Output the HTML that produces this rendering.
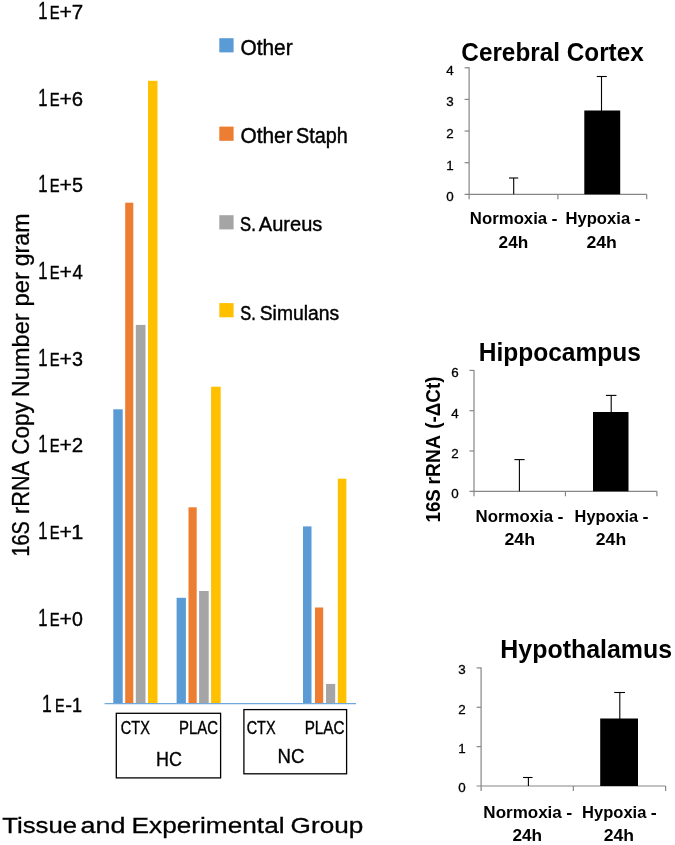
<!DOCTYPE html>
<html><head><meta charset="utf-8"><title>Chart</title>
<style>
html,body{margin:0;padding:0;background:#fff;}
body{width:675px;height:845px;overflow:hidden;font-family:"Liberation Sans",sans-serif;}
svg{display:block;will-change:transform;font-family:"Liberation Sans",sans-serif;}
</style></head><body>
<svg width="675" height="845" viewBox="0 0 675 845">
<rect width="675" height="845" fill="#fff"/>
<rect x="113.30" y="409.30" width="9.40" height="294.40" fill="#5B9BD5"/>
<rect x="125.20" y="202.70" width="8.10" height="501.00" fill="#ED7D31"/>
<rect x="135.80" y="324.90" width="9.70" height="378.80" fill="#A5A5A5"/>
<rect x="148.00" y="80.80" width="9.50" height="622.90" fill="#FFC000"/>
<rect x="176.60" y="597.80" width="9.30" height="105.90" fill="#5B9BD5"/>
<rect x="188.50" y="507.30" width="8.20" height="196.40" fill="#ED7D31"/>
<rect x="199.10" y="591.00" width="9.60" height="112.70" fill="#A5A5A5"/>
<rect x="211.10" y="386.70" width="9.60" height="317.00" fill="#FFC000"/>
<rect x="303.00" y="526.40" width="8.50" height="177.30" fill="#5B9BD5"/>
<rect x="315.00" y="607.50" width="8.20" height="96.20" fill="#ED7D31"/>
<rect x="326.00" y="683.90" width="9.20" height="19.80" fill="#A5A5A5"/>
<rect x="337.80" y="478.70" width="8.60" height="225.00" fill="#FFC000"/>
<line x1="104.60" y1="703.70" x2="356.10" y2="703.70" stroke="#6FA8DC" stroke-width="1.2"/>
<rect x="219.30" y="38.20" width="14.30" height="14.20" fill="#5B9BD5"/>
<rect x="219.30" y="126.60" width="14.30" height="14.20" fill="#ED7D31"/>
<rect x="219.30" y="215.20" width="14.30" height="14.20" fill="#A5A5A5"/>
<rect x="219.30" y="303.10" width="14.30" height="14.20" fill="#FFC000"/>
<text transform="translate(240.41,54.60) scale(0.9804,1)" font-size="21.30" font-weight="normal" stroke="#000" stroke-width="0.41" fill="#000">Other</text>
<text transform="translate(240.41,143.00) scale(0.9804,1)" font-size="21.30" font-weight="normal" stroke="#000" stroke-width="0.41" fill="#000">Other</text>
<text transform="translate(296.11,143.00) scale(0.9296,1)" font-size="21.30" font-weight="normal" stroke="#000" stroke-width="0.43" fill="#000">Staph</text>
<text transform="translate(240.05,230.60) scale(0.7937,1)" font-size="21.00" font-weight="normal" stroke="#000" stroke-width="0.50" fill="#000">S.</text>
<text transform="translate(258.85,230.60) scale(0.9539,1)" font-size="21.00" font-weight="normal" stroke="#000" stroke-width="0.42" fill="#000">Aureus</text>
<text transform="translate(240.26,319.80) scale(0.7819,1)" font-size="21.00" font-weight="normal" stroke="#000" stroke-width="0.51" fill="#000">S.</text>
<text transform="translate(259.73,319.80) scale(0.9187,1)" font-size="21.00" font-weight="normal" stroke="#000" stroke-width="0.44" fill="#000">Simulans</text>
<text transform="translate(38.15,19.20) scale(0.7054,1)" font-size="23.60" font-weight="normal" stroke="#000" stroke-width="0.43" fill="#000">1</text>
<text transform="translate(49.78,19.20) scale(0.7844,1)" font-size="18.80" font-weight="normal" stroke="#000" stroke-width="0.45" fill="#000">E</text>
<text transform="translate(59.59,19.20) scale(1.0159,1)" font-size="21.00" font-weight="normal" stroke="#000" stroke-width="0.35" fill="#000">+</text>
<text transform="translate(71.77,19.20) scale(0.9784,1)" font-size="21.00" font-weight="normal" stroke="#000" stroke-width="0.36" fill="#000">7</text>
<text transform="translate(38.15,105.82) scale(0.7054,1)" font-size="23.60" font-weight="normal" stroke="#000" stroke-width="0.43" fill="#000">1</text>
<text transform="translate(49.78,105.82) scale(0.7844,1)" font-size="18.80" font-weight="normal" stroke="#000" stroke-width="0.45" fill="#000">E</text>
<text transform="translate(59.59,105.82) scale(1.0159,1)" font-size="21.00" font-weight="normal" stroke="#000" stroke-width="0.35" fill="#000">+</text>
<text transform="translate(71.78,105.82) scale(0.9678,1)" font-size="21.00" font-weight="normal" stroke="#000" stroke-width="0.36" fill="#000">6</text>
<text transform="translate(38.15,192.44) scale(0.7054,1)" font-size="23.60" font-weight="normal" stroke="#000" stroke-width="0.43" fill="#000">1</text>
<text transform="translate(49.78,192.44) scale(0.7844,1)" font-size="18.80" font-weight="normal" stroke="#000" stroke-width="0.45" fill="#000">E</text>
<text transform="translate(59.59,192.44) scale(1.0159,1)" font-size="21.00" font-weight="normal" stroke="#000" stroke-width="0.35" fill="#000">+</text>
<text transform="translate(72.01,192.44) scale(0.9424,1)" font-size="21.00" font-weight="normal" stroke="#000" stroke-width="0.37" fill="#000">5</text>
<text transform="translate(38.15,279.06) scale(0.7054,1)" font-size="23.60" font-weight="normal" stroke="#000" stroke-width="0.43" fill="#000">1</text>
<text transform="translate(49.78,279.06) scale(0.7844,1)" font-size="18.80" font-weight="normal" stroke="#000" stroke-width="0.45" fill="#000">E</text>
<text transform="translate(59.59,279.06) scale(1.0159,1)" font-size="21.00" font-weight="normal" stroke="#000" stroke-width="0.35" fill="#000">+</text>
<text transform="translate(72.38,279.06) scale(0.8864,1)" font-size="21.00" font-weight="normal" stroke="#000" stroke-width="0.39" fill="#000">4</text>
<text transform="translate(38.15,365.68) scale(0.7054,1)" font-size="23.60" font-weight="normal" stroke="#000" stroke-width="0.43" fill="#000">1</text>
<text transform="translate(49.78,365.68) scale(0.7844,1)" font-size="18.80" font-weight="normal" stroke="#000" stroke-width="0.45" fill="#000">E</text>
<text transform="translate(59.59,365.68) scale(1.0159,1)" font-size="21.00" font-weight="normal" stroke="#000" stroke-width="0.35" fill="#000">+</text>
<text transform="translate(72.06,365.68) scale(0.9424,1)" font-size="21.00" font-weight="normal" stroke="#000" stroke-width="0.37" fill="#000">3</text>
<text transform="translate(38.15,452.30) scale(0.7054,1)" font-size="23.60" font-weight="normal" stroke="#000" stroke-width="0.43" fill="#000">1</text>
<text transform="translate(49.78,452.30) scale(0.7844,1)" font-size="18.80" font-weight="normal" stroke="#000" stroke-width="0.45" fill="#000">E</text>
<text transform="translate(59.59,452.30) scale(1.0159,1)" font-size="21.00" font-weight="normal" stroke="#000" stroke-width="0.35" fill="#000">+</text>
<text transform="translate(71.77,452.30) scale(0.9784,1)" font-size="21.00" font-weight="normal" stroke="#000" stroke-width="0.36" fill="#000">2</text>
<text transform="translate(38.15,538.92) scale(0.7054,1)" font-size="23.60" font-weight="normal" stroke="#000" stroke-width="0.43" fill="#000">1</text>
<text transform="translate(49.78,538.92) scale(0.7844,1)" font-size="18.80" font-weight="normal" stroke="#000" stroke-width="0.45" fill="#000">E</text>
<text transform="translate(59.59,538.92) scale(1.0159,1)" font-size="21.00" font-weight="normal" stroke="#000" stroke-width="0.35" fill="#000">+</text>
<text transform="translate(71.17,538.92) scale(1.0350,1)" font-size="21.00" font-weight="normal" stroke="#000" stroke-width="0.35" fill="#000">1</text>
<text transform="translate(38.15,625.54) scale(0.7054,1)" font-size="23.60" font-weight="normal" stroke="#000" stroke-width="0.43" fill="#000">1</text>
<text transform="translate(49.78,625.54) scale(0.7844,1)" font-size="18.80" font-weight="normal" stroke="#000" stroke-width="0.45" fill="#000">E</text>
<text transform="translate(59.59,625.54) scale(1.0159,1)" font-size="21.00" font-weight="normal" stroke="#000" stroke-width="0.35" fill="#000">+</text>
<text transform="translate(72.07,625.54) scale(0.9325,1)" font-size="21.00" font-weight="normal" stroke="#000" stroke-width="0.38" fill="#000">0</text>
<text transform="translate(42.08,712.16) scale(0.7446,1)" font-size="23.60" font-weight="normal" stroke="#000" stroke-width="0.40" fill="#000">1</text>
<text transform="translate(55.11,712.16) scale(0.7648,1)" font-size="18.80" font-weight="normal" stroke="#000" stroke-width="0.46" fill="#000">E</text>
<text transform="translate(65.28,712.16) scale(0.9718,1)" font-size="21.00" font-weight="normal" stroke="#000" stroke-width="0.36" fill="#000">-</text>
<text transform="translate(71.95,712.16) scale(0.8588,1)" font-size="21.00" font-weight="normal" stroke="#000" stroke-width="0.41" fill="#000">1</text>
<text transform="translate(28.50,556.49) rotate(-90) scale(0.8495,1)" font-size="23.40" font-weight="normal" stroke="#000" stroke-width="0.35" fill="#000">16S</text>
<text transform="translate(28.50,513.91) rotate(-90) scale(0.9239,1)" font-size="23.40" font-weight="normal" stroke="#000" stroke-width="0.32" fill="#000">rRNA</text>
<text transform="translate(28.50,454.82) rotate(-90) scale(0.9604,1)" font-size="23.40" font-weight="normal" stroke="#000" stroke-width="0.31" fill="#000">Copy</text>
<text transform="translate(28.50,397.14) rotate(-90) scale(1.0061,1)" font-size="23.40" font-weight="normal" stroke="#000" stroke-width="0.30" fill="#000">Number</text>
<text transform="translate(28.50,306.55) rotate(-90) scale(1.0206,1)" font-size="23.40" font-weight="normal" stroke="#000" stroke-width="0.30" fill="#000">per</text>
<text transform="translate(28.50,266.28) rotate(-90) scale(0.9886,1)" font-size="23.40" font-weight="normal" stroke="#000" stroke-width="0.30" fill="#000">gram</text>
<text transform="translate(2.22,833.20) scale(1.1214,1)" font-size="22.97" font-weight="normal" stroke="#000" stroke-width="0.30" fill="#000">Tissue</text>
<text transform="translate(80.45,833.20) scale(1.1760,1)" font-size="22.97" font-weight="normal" stroke="#000" stroke-width="0.30" fill="#000">and</text>
<text transform="translate(131.54,833.20) scale(1.1423,1)" font-size="22.97" font-weight="normal" stroke="#000" stroke-width="0.30" fill="#000">Experimental</text>
<text transform="translate(290.59,833.20) scale(1.1390,1)" font-size="22.97" font-weight="normal" stroke="#000" stroke-width="0.30" fill="#000">Group</text>
<rect x="116.3" y="713.3" width="104.3" height="64.6" fill="none" stroke="#000" stroke-width="1.3"/>
<rect x="243.9" y="709.6" width="102.7" height="64.2" fill="none" stroke="#000" stroke-width="1.3"/>
<text transform="translate(120.87,734.20) scale(0.8260,1)" font-size="17.59" font-weight="normal" stroke="#000" stroke-width="0.36" fill="#000">CTX</text>
<text transform="translate(179.07,734.20) scale(0.8486,1)" font-size="17.59" font-weight="normal" stroke="#000" stroke-width="0.35" fill="#000">PLAC</text>
<text transform="translate(156.12,766.20) scale(0.8703,1)" font-size="20.64" font-weight="normal" stroke="#000" stroke-width="0.34" fill="#000">HC</text>
<text transform="translate(246.68,733.90) scale(0.8201,1)" font-size="17.59" font-weight="normal" stroke="#000" stroke-width="0.37" fill="#000">CTX</text>
<text transform="translate(304.64,733.90) scale(0.8691,1)" font-size="17.59" font-weight="normal" stroke="#000" stroke-width="0.35" fill="#000">PLAC</text>
<text transform="translate(277.46,763.20) scale(0.9161,1)" font-size="20.35" font-weight="normal" stroke="#000" stroke-width="0.33" fill="#000">NC</text>
<text transform="translate(461.33,61.00) scale(0.9295,1)" font-size="26.16" font-weight="bold" fill="#000">Cerebral Cortex</text>
<line x1="469.10" y1="67.30" x2="469.10" y2="199.30" stroke="#868686" stroke-width="1.2"/>
<line x1="464.60" y1="194.30" x2="646.70" y2="194.30" stroke="#868686" stroke-width="1.2"/>
<text transform="translate(450.10,201.20) scale(1.06,1)" text-anchor="middle" font-size="12.65" stroke="#000" stroke-width="0.3">0</text>
<line x1="464.60" y1="162.68" x2="469.10" y2="162.68" stroke="#868686" stroke-width="1.2"/>
<text transform="translate(450.10,169.58) scale(1.06,1)" text-anchor="middle" font-size="12.65" stroke="#000" stroke-width="0.3">1</text>
<line x1="464.60" y1="131.05" x2="469.10" y2="131.05" stroke="#868686" stroke-width="1.2"/>
<text transform="translate(450.10,137.95) scale(1.06,1)" text-anchor="middle" font-size="12.65" stroke="#000" stroke-width="0.3">2</text>
<line x1="464.60" y1="99.42" x2="469.10" y2="99.42" stroke="#868686" stroke-width="1.2"/>
<text transform="translate(450.10,106.33) scale(1.06,1)" text-anchor="middle" font-size="12.65" stroke="#000" stroke-width="0.3">3</text>
<line x1="464.60" y1="67.80" x2="469.10" y2="67.80" stroke="#868686" stroke-width="1.2"/>
<text transform="translate(450.10,74.70) scale(1.06,1)" text-anchor="middle" font-size="12.65" stroke="#000" stroke-width="0.3">4</text>
<line x1="557.90" y1="194.30" x2="557.90" y2="199.30" stroke="#868686" stroke-width="1.2"/>
<line x1="646.70" y1="194.30" x2="646.70" y2="199.30" stroke="#868686" stroke-width="1.2"/>
<rect x="584.30" y="110.50" width="35.90" height="83.80" fill="#000"/>
<line x1="601.50" y1="76.50" x2="601.50" y2="111.50" stroke="#000" stroke-width="1.1"/>
<line x1="596.80" y1="76.50" x2="606.80" y2="76.50" stroke="#000" stroke-width="1.1"/>
<line x1="513.70" y1="178.00" x2="513.70" y2="194.30" stroke="#000" stroke-width="1.1"/>
<line x1="509.00" y1="178.00" x2="518.20" y2="178.00" stroke="#000" stroke-width="1.1"/>
<text transform="translate(469.87,224.40) scale(1.0677,1)" font-size="15.70" font-weight="bold" fill="#000">Normoxia</text>
<text transform="translate(551.52,224.40) scale(1.1492,1)" font-size="15.70" font-weight="bold" fill="#000">-</text>
<text transform="translate(498.60,248.40) scale(1.0960,1)" font-size="15.70" font-weight="bold" fill="#000">24h</text>
<text transform="translate(565.48,224.40) scale(1.0595,1)" font-size="15.70" font-weight="bold" fill="#000">Hypoxia</text>
<text transform="translate(634.52,224.40) scale(1.1492,1)" font-size="15.70" font-weight="bold" fill="#000">-</text>
<text transform="translate(586.38,248.40) scale(1.1273,1)" font-size="15.70" font-weight="bold" fill="#000">24h</text>
<text transform="translate(478.74,360.70) scale(0.9376,1)" font-size="26.16" font-weight="bold" fill="#000">Hippocampus</text>
<line x1="474.00" y1="369.90" x2="474.00" y2="496.30" stroke="#868686" stroke-width="1.2"/>
<line x1="469.50" y1="491.30" x2="656.90" y2="491.30" stroke="#868686" stroke-width="1.2"/>
<text transform="translate(455.00,498.20) scale(1.06,1)" text-anchor="middle" font-size="12.65" stroke="#000" stroke-width="0.3">0</text>
<line x1="469.50" y1="451.00" x2="474.00" y2="451.00" stroke="#868686" stroke-width="1.2"/>
<text transform="translate(455.00,457.90) scale(1.06,1)" text-anchor="middle" font-size="12.65" stroke="#000" stroke-width="0.3">2</text>
<line x1="469.50" y1="410.70" x2="474.00" y2="410.70" stroke="#868686" stroke-width="1.2"/>
<text transform="translate(455.00,417.60) scale(1.06,1)" text-anchor="middle" font-size="12.65" stroke="#000" stroke-width="0.3">4</text>
<line x1="469.50" y1="370.40" x2="474.00" y2="370.40" stroke="#868686" stroke-width="1.2"/>
<text transform="translate(455.00,377.30) scale(1.06,1)" text-anchor="middle" font-size="12.65" stroke="#000" stroke-width="0.3">6</text>
<line x1="565.45" y1="491.30" x2="565.45" y2="496.30" stroke="#868686" stroke-width="1.2"/>
<line x1="656.90" y1="491.30" x2="656.90" y2="496.30" stroke="#868686" stroke-width="1.2"/>
<rect x="593.00" y="412.00" width="35.50" height="79.30" fill="#000"/>
<line x1="611.20" y1="395.40" x2="611.20" y2="413.00" stroke="#000" stroke-width="1.1"/>
<line x1="605.90" y1="395.40" x2="616.40" y2="395.40" stroke="#000" stroke-width="1.1"/>
<line x1="519.40" y1="459.60" x2="519.40" y2="491.30" stroke="#000" stroke-width="1.1"/>
<line x1="514.40" y1="459.60" x2="524.60" y2="459.60" stroke="#000" stroke-width="1.1"/>
<text transform="translate(475.56,521.50) scale(1.0719,1)" font-size="15.70" font-weight="bold" fill="#000">Normoxia</text>
<text transform="translate(557.52,521.50) scale(1.1492,1)" font-size="15.70" font-weight="bold" fill="#000">-</text>
<text transform="translate(504.38,544.60) scale(1.1351,1)" font-size="15.70" font-weight="bold" fill="#000">24h</text>
<text transform="translate(574.60,521.50) scale(1.0412,1)" font-size="15.70" font-weight="bold" fill="#000">Hypoxia</text>
<text transform="translate(642.52,521.50) scale(1.1492,1)" font-size="15.70" font-weight="bold" fill="#000">-</text>
<text transform="translate(595.78,544.60) scale(1.1234,1)" font-size="15.70" font-weight="bold" fill="#000">24h</text>
<text transform="translate(500.32,657.60) scale(0.9535,1)" font-size="26.16" font-weight="bold" fill="#000">Hypothalamus</text>
<line x1="481.10" y1="667.40" x2="481.10" y2="791.00" stroke="#868686" stroke-width="1.2"/>
<line x1="476.60" y1="786.00" x2="665.60" y2="786.00" stroke="#868686" stroke-width="1.2"/>
<text transform="translate(462.10,792.30) scale(1.06,1)" text-anchor="middle" font-size="12.65" stroke="#000" stroke-width="0.3">0</text>
<line x1="476.60" y1="746.63" x2="481.10" y2="746.63" stroke="#868686" stroke-width="1.2"/>
<text transform="translate(462.10,752.93) scale(1.06,1)" text-anchor="middle" font-size="12.65" stroke="#000" stroke-width="0.3">1</text>
<line x1="476.60" y1="707.27" x2="481.10" y2="707.27" stroke="#868686" stroke-width="1.2"/>
<text transform="translate(462.10,713.57) scale(1.06,1)" text-anchor="middle" font-size="12.65" stroke="#000" stroke-width="0.3">2</text>
<line x1="476.60" y1="667.90" x2="481.10" y2="667.90" stroke="#868686" stroke-width="1.2"/>
<text transform="translate(462.10,674.20) scale(1.06,1)" text-anchor="middle" font-size="12.65" stroke="#000" stroke-width="0.3">3</text>
<line x1="573.35" y1="786.00" x2="573.35" y2="791.00" stroke="#868686" stroke-width="1.2"/>
<line x1="665.60" y1="786.00" x2="665.60" y2="791.00" stroke="#868686" stroke-width="1.2"/>
<rect x="600.20" y="718.50" width="37.80" height="67.50" fill="#000"/>
<line x1="619.80" y1="692.50" x2="619.80" y2="719.50" stroke="#000" stroke-width="1.1"/>
<line x1="614.20" y1="692.50" x2="625.00" y2="692.50" stroke="#000" stroke-width="1.1"/>
<line x1="528.40" y1="777.50" x2="528.40" y2="786.00" stroke="#000" stroke-width="1.1"/>
<line x1="523.00" y1="777.50" x2="532.60" y2="777.50" stroke="#000" stroke-width="1.1"/>
<text transform="translate(483.35,817.60) scale(1.0845,1)" font-size="15.70" font-weight="bold" fill="#000">Normoxia</text>
<text transform="translate(566.22,817.60) scale(1.1492,1)" font-size="15.70" font-weight="bold" fill="#000">-</text>
<text transform="translate(512.40,841.00) scale(1.0960,1)" font-size="15.70" font-weight="bold" fill="#000">24h</text>
<text transform="translate(582.08,817.60) scale(1.0529,1)" font-size="15.70" font-weight="bold" fill="#000">Hypoxia</text>
<text transform="translate(650.72,817.60) scale(1.1492,1)" font-size="15.70" font-weight="bold" fill="#000">-</text>
<text transform="translate(603.78,841.00) scale(1.1195,1)" font-size="15.70" font-weight="bold" fill="#000">24h</text>
<text transform="translate(440.40,522.47) rotate(-90) scale(0.9069,1)" font-size="20.64" font-weight="bold" fill="#000">16S</text>
<text transform="translate(440.40,484.45) rotate(-90) scale(0.9346,1)" font-size="20.64" font-weight="bold" fill="#000">rRNA</text>
<text transform="translate(440.40,428.85) rotate(-90) scale(0.9165,1)" font-size="20.64" font-weight="bold" fill="#000">(-ΔCt)</text>
</svg>
</body></html>
